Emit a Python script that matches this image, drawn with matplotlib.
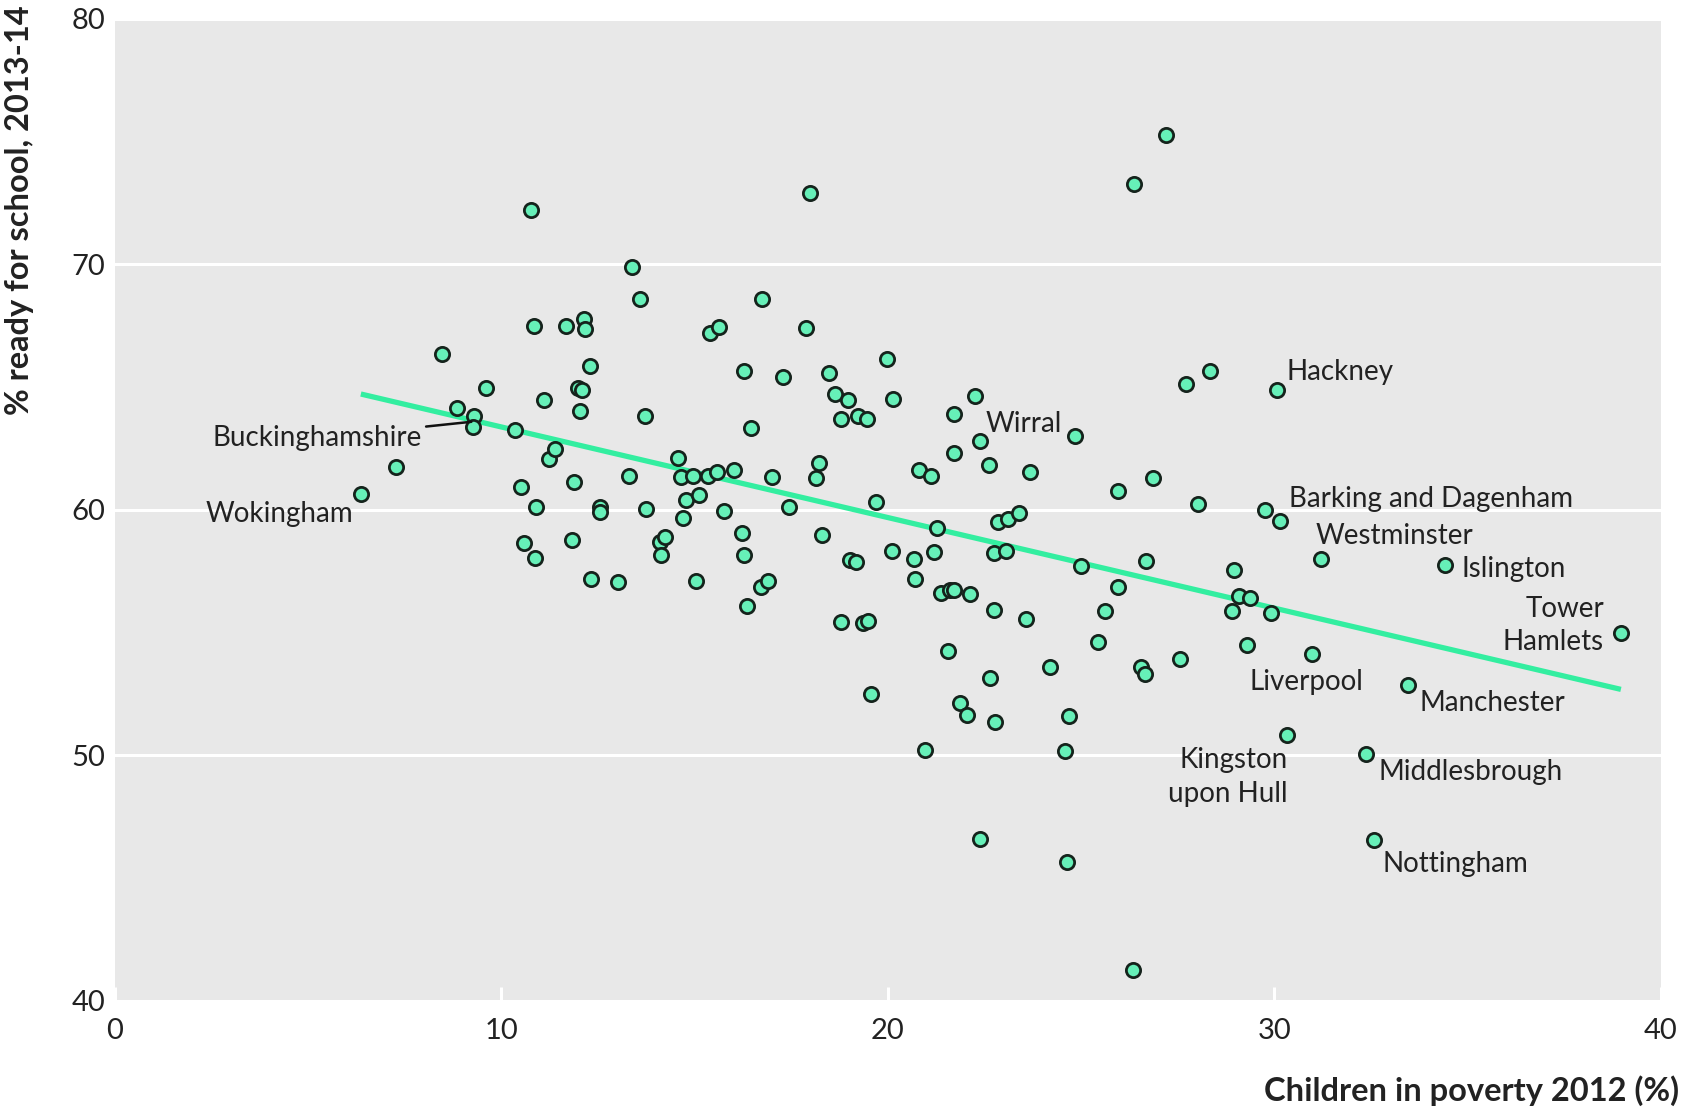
import numpy as np
import matplotlib.pyplot as plt

plt.rcParams['font.family'] = ['Lato', 'DejaVu Sans']

# % children in poverty 2012 and % ready for school 2013-14, one pair per local authority
poverty = [6.37, 7.29, 8.48, 8.85, 9.29, 9.26, 9.62, 10.35, 10.51, 10.60,
           10.77, 10.85, 10.91, 10.88, 11.10, 11.24, 11.38, 11.68, 11.82, 11.88,
           11.99, 12.10, 12.04, 12.15, 12.18, 12.29, 12.32, 12.55, 12.55, 13.02,
           13.32, 13.38, 13.60, 13.71, 13.74, 14.10, 14.13, 14.24, 14.58, 14.66,
           14.71, 14.77, 14.97, 15.05, 15.13, 15.35, 15.41, 15.58, 15.63, 15.77,
           16.02, 16.24, 16.27, 16.27, 16.36, 16.47, 16.72, 16.75, 16.91, 17.00,
           17.30, 17.44, 17.89, 18.00, 18.14, 18.22, 18.30, 18.47, 18.64, 18.80,
           18.80, 18.97, 19.03, 19.19, 19.22, 19.36, 19.47, 19.50, 19.58, 19.69,
           19.97, 20.11, 20.14, 20.67, 20.70, 20.81, 20.97, 21.11, 21.20, 21.28,
           21.39, 21.56, 21.61, 21.72, 21.72, 21.72, 21.86, 22.06, 22.14, 22.25,
           22.39, 22.39, 22.61, 22.64, 22.75, 22.75, 22.78, 22.86, 23.06, 23.12,
           23.39, 23.59, 23.67, 24.20, 24.59, 24.65, 24.70, 24.84, 25.01, 25.45,
           25.62, 25.95, 25.95, 26.34, 26.37, 26.56, 26.65, 26.68, 26.87, 27.20,
           27.57, 27.73, 28.04, 28.34, 28.90, 28.96, 29.10, 29.29, 29.37, 29.76,
           29.93, 30.07, 30.15, 30.32, 30.99, 31.21, 32.38, 32.57, 33.46, 34.41,
           38.97]
ready = [60.66, 61.75, 66.35, 64.16, 63.81, 63.37, 64.95, 63.24, 60.92, 58.64,
         72.21, 67.48, 60.13, 58.03, 64.46, 62.06, 62.50, 67.48, 58.77, 61.14,
         64.95, 64.90, 64.03, 67.79, 67.35, 65.86, 57.20, 60.13, 59.91, 57.07,
         61.40, 69.89, 68.58, 63.81, 60.04, 58.69, 58.16, 58.91, 62.10, 61.36,
         59.65, 60.39, 61.40, 57.11, 60.61, 61.40, 67.22, 61.53, 67.44, 59.96,
         61.62, 59.04, 65.65, 58.16, 56.10, 63.33, 56.85, 68.58, 57.11, 61.36,
         65.43, 60.13, 67.40, 72.91, 61.31, 61.93, 58.99, 65.56, 64.73, 63.72,
         55.45, 64.46, 57.94, 57.86, 63.81, 55.40, 63.72, 55.49, 52.52, 60.31,
         66.13, 58.34, 64.51, 57.99, 57.20, 61.62, 50.24, 61.40, 58.29, 59.26,
         56.63, 54.27, 56.72, 56.72, 63.89, 62.32, 52.12, 51.64, 56.59, 64.64,
         46.61, 62.80, 61.84, 53.17, 55.93, 58.25, 51.38, 59.52, 58.34, 59.61,
         59.87, 55.54, 61.53, 53.61, 50.20, 45.65, 51.60, 63.02, 57.72, 54.62,
         55.89, 56.85, 60.79, 41.27, 73.26, 53.61, 53.30, 57.90, 61.31, 75.27,
         53.92, 65.12, 60.22, 65.65, 55.89, 57.55, 56.50, 54.49, 56.41, 60.00,
         55.80, 64.90, 59.56, 50.85, 54.14, 57.99, 50.07, 46.56, 52.87, 57.77,
         54.97]

# regression line (slope, intercept) as shown
fit_slope = -0.369
fit_intercept = 67.07

# labelled authorities: text, text position, alignment
labels = ['Buckinghamshire', 'Wokingham', 'Wirral', 'Hackney', 'Barking and Dagenham',
          'Westminster', 'Islington', 'Tower\nHamlets', 'Liverpool', 'Manchester',
          'Kingston\nupon Hull', 'Middlesbrough', 'Nottingham']
label_x = [7.95, 6.18, 22.53, 30.32, 30.38, 31.07, 34.85, 38.53, 29.37, 33.77,
           30.35, 32.71, 32.80]
label_y = [62.93, 59.82, 63.50, 65.60, 60.44, 58.95, 57.60, 55.30, 53.00, 52.12,
           49.12, 49.32, 45.56]
label_ha = ['right', 'right', 'left', 'left', 'left', 'left', 'left', 'right',
            'left', 'left', 'right', 'left', 'left']

bg = '#e8e8e8'
mint = '#66f0b8'
line_col = '#33eea0'
ink = '#222222'

fig = plt.figure(figsize=(16.86, 11.08), dpi=100)
ax = fig.add_axes([0.068, 0.0966, 0.917, 0.8864])
ax.set_facecolor(bg)
for s in ax.spines.values():
    s.set_visible(False)

ax.set_xlim(0, 40)
ax.set_ylim(40, 80)
ax.set_xticks([0, 10, 20, 30, 40])
ax.set_yticks([40, 50, 60, 70, 80])
ax.yaxis.grid(True, color='white', linewidth=2.2)
ax.set_axisbelow(True)
ax.tick_params(axis='y', length=0, pad=7, labelsize=21, labelcolor=ink)
ax.tick_params(axis='x', direction='in', length=10, width=2.2, color='white',
               pad=12, labelsize=21, labelcolor=ink)

xs = np.array([min(poverty), max(poverty)])
ax.plot(xs, fit_intercept + fit_slope * xs, color=line_col, linewidth=3.8, zorder=2,
        solid_capstyle='butt')

ax.scatter(poverty, ready, s=105, facecolor=mint, edgecolor='#15231c',
           linewidths=2.0, zorder=3)

for t, tx, ty, ha in zip(labels, label_x, label_y, label_ha):
    if t == 'Buckinghamshire':
        ax.annotate(t, xy=(9.3, 63.6), xytext=(tx, ty), ha=ha, va='center',
                    fontsize=20, color=ink,
                    arrowprops=dict(arrowstyle='-', color='#111111', lw=1.8,
                                    shrinkA=1, shrinkB=2))
    else:
        ax.text(tx, ty, t, ha=ha, va='center', fontsize=20, color=ink,
                multialignment=ha, linespacing=1.35)

fig.text(0.003, 0.995, '% ready for school, 2013-14', rotation=90, ha='left',
         va='top', fontsize=23.5, fontweight='bold', color=ink)
fig.text(0.996, 0.002, 'Children in poverty 2012 (%)', ha='right', va='bottom',
         fontsize=23.5, fontweight='bold', color=ink)

fig.savefig('out.png', dpi=100, facecolor='white')
